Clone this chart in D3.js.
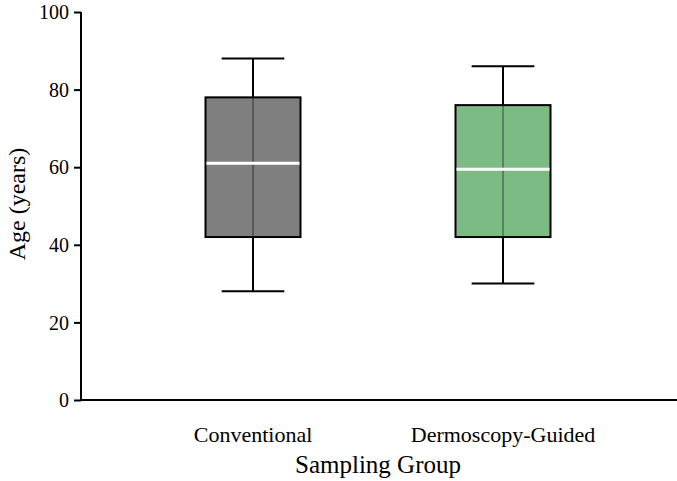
<!DOCTYPE html>
<html><head><meta charset="utf-8">
<script src="https://cdn.jsdelivr.net/npm/d3@7"></script>
<style>body{margin:0;background:#fff}svg{display:block}text{font-family:"Liberation Serif","Times New Roman",serif}</style>
</head><body><svg id="c" width="677" height="481"></svg>
<script>
const categories = ["Conventional", "Dermoscopy-Guided"];
const whiskerLow = [28, 30];
const q1 = [42, 42];
const medians = [61, 59.5];
const q3 = [78, 76];
const whiskerHigh = [88, 86];
const colors = ["#7f7f7f", "#7dbb84"];
const yTicks = [0, 20, 40, 60, 80, 100];

(function () {
const svg = d3.select("#c");
const mLeft = 81, mTop = 12, mBottom = 400, mRight = 677;
const y = d3.scaleLinear().domain([0, 100]).range([mBottom, mTop]);
const x = d3.scaleBand().domain(categories).range([128, 628]).paddingInner(0.62).paddingOuter(0.31);

const ya = svg.append("g").attr("transform", `translate(${mLeft},0)`)
  .call(d3.axisLeft(y).tickValues(yTicks).tickSize(7).tickSizeOuter(0));
ya.select(".domain").attr("stroke", "#000").attr("stroke-width", 2).attr("d", `M0,${mTop}V${mBottom}`);
ya.selectAll(".tick line").attr("stroke", "#000").attr("stroke-width", 2);
ya.selectAll(".tick text").attr("font-size", 20).attr("fill", "#000").attr("x", -12).attr("dy", "0.33em");

svg.append("line").attr("x1", mLeft - 1).attr("x2", mRight).attr("y1", mBottom).attr("y2", mBottom)
  .attr("stroke", "#000").attr("stroke-width", 2);

const xa = svg.append("g").attr("transform", `translate(0,${mBottom})`)
  .call(d3.axisBottom(x).tickSize(0));
xa.select(".domain").remove();
xa.selectAll(".tick text").attr("font-size", 22).attr("fill", "#000").attr("dy", 0).attr("y", 42);

const bw = x.bandwidth();
categories.forEach((c, i) => {
  const cx = x(c) + bw / 2;
  const g = svg.append("g");
  g.append("line").attr("x1", cx).attr("x2", cx).attr("y1", y(whiskerHigh[i])).attr("y2", y(q3[i]))
    .attr("stroke", "#000").attr("stroke-width", 2);
  g.append("line").attr("x1", cx).attr("x2", cx).attr("y1", y(q1[i])).attr("y2", y(whiskerLow[i]))
    .attr("stroke", "#000").attr("stroke-width", 2);
  const cap = bw * 0.66;
  [whiskerHigh[i], whiskerLow[i]].forEach(v => g.append("line")
    .attr("x1", cx - cap / 2).attr("x2", cx + cap / 2).attr("y1", y(v)).attr("y2", y(v))
    .attr("stroke", "#000").attr("stroke-width", 2));
  g.append("rect").attr("x", x(c)).attr("width", bw).attr("y", y(q3[i])).attr("height", y(q1[i]) - y(q3[i]))
    .attr("fill", colors[i]).attr("stroke", "#000").attr("stroke-width", 2);
  g.append("line").attr("x1", cx).attr("x2", cx).attr("y1", y(q3[i])).attr("y2", y(q1[i]))
    .attr("stroke", "#000").attr("stroke-opacity", 0.3).attr("stroke-width", 2);
  g.append("line").attr("x1", x(c) + 1).attr("x2", x(c) + bw - 1).attr("y1", y(medians[i])).attr("y2", y(medians[i]))
    .attr("stroke", "#fff").attr("stroke-width", 3);
});

svg.append("text").attr("x", 378).attr("y", 473).attr("text-anchor", "middle").attr("font-size", 25).text("Sampling Group");
svg.append("text").attr("transform", `translate(25,${204}) rotate(-90)`).attr("text-anchor", "middle")
  .attr("font-size", 24).text("Age (years)");
})();
</script></body></html>
